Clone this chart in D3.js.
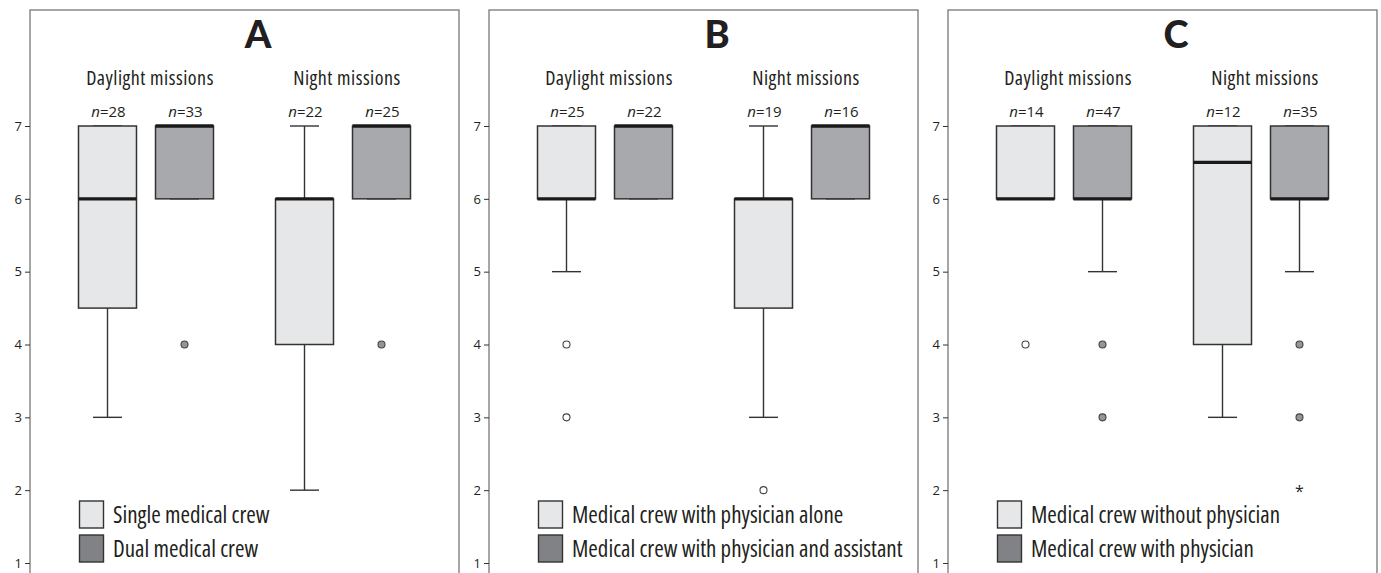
<!DOCTYPE html>
<html><head><meta charset="utf-8">
<script src="https://cdn.jsdelivr.net/npm/d3@7"></script>
<style>body{margin:0;background:#fff;} svg{display:block;}</style>
</head><body><svg id="chart" width="1381" height="573"></svg>
<script>
const panelLetters = ["A","B","C"];
const groupLabels = ["Daylight missions","Night missions"];
const crewKeys = ["light","dark"];
const legendA = ["Single medical crew","Dual medical crew"];
const legendB = ["Medical crew with physician alone","Medical crew with physician and assistant"];
const legendC = ["Medical crew without physician","Medical crew with physician"];
const yTicks = [1,2,3,4,5,6,7];
// box order: daylight-light, daylight-dark, night-light, night-dark
const nA = [28,33,22,25], nB = [25,22,19,16], nC = [14,47,12,35];
const q1A = [4.5,6,4,6], q1B = [6,6,4.5,6], q1C = [6,6,4,6];
const medA = [6,7,6,7], medB = [6,7,6,7], medC = [6,6,6.5,6];
const q3A = [7,7,6,7], q3B = [7,7,6,7], q3C = [7,7,7,7];
const loA = [3,6,2,6], loB = [5,6,3,6], loC = [6,5,3,5];
const hiA = [7,7,7,7], hiB = [7,7,7,7], hiC = [7,7,7,7];
const outA = [[],[4],[],[4]], outB = [[4,3],[],[2],[]], outC = [[4],[4,3],[],[4,3]];
const extA = [[],[],[],[]], extB = [[],[],[],[]], extC = [[],[],[],[2]];

const panelData = [
  {n:nA,q1:q1A,med:medA,q3:q3A,lo:loA,hi:hiA,out:outA,ext:extA,legend:legendA},
  {n:nB,q1:q1B,med:medB,q3:q3B,lo:loB,hi:hiB,out:outB,ext:extB,legend:legendB},
  {n:nC,q1:q1C,med:medC,q3:q3C,lo:loC,hi:hiC,out:outC,ext:extC,legend:legendC}
];

const FONT = "'Open Sans', 'Noto Sans', sans-serif";
const fillBox = {light:"#e6e7e8", dark:"#a7a9ac"};
const fillLeg = {light:"#e6e7e8", dark:"#808285"};
const fillOut = {light:"#ffffff", dark:"#939598"};
const INK = "#231f20";

const svg = d3.select("#chart");
const px = d3.scaleBand().domain(panelLetters).range([30, 30 + 3*459]).paddingInner(0);
const y = d3.scaleLinear().domain([1,7]).range([563,126]);
const xg = d3.scalePoint().domain(groupLabels).range([116,313]);
const xc = d3.scalePoint().domain(crewKeys).range([-38.5,38.5]);
const BW = 58, CW = 29;
const frameW = 429;

panelLetters.forEach((letter, pi) => {
  const d = panelData[pi];
  const g = svg.append("g").attr("transform", `translate(${px(letter)},0)`);
  // frame
  g.append("rect").attr("x",0).attr("y",10).attr("width",frameW).attr("height",600)
    .attr("fill","none").attr("stroke","#777").attr("stroke-width",1.3);
  // axis
  const ax = g.append("g").call(d3.axisLeft(y).tickValues(yTicks).tickSize(5).tickPadding(3).tickFormat(d3.format("d")));
  ax.select(".domain").remove();
  ax.selectAll(".tick line").attr("stroke","#333").attr("stroke-width",1);
  ax.selectAll(".tick text").attr("font-family",FONT).attr("font-size",13).attr("fill",INK);
  // title
  g.append("text").attr("x",228).attr("y",48).attr("text-anchor","middle")
    .attr("font-family","Lato, 'Open Sans', sans-serif").attr("font-weight",900).attr("font-size",38)
    .attr("fill",INK).text(letter);
  // group labels
  groupLabels.forEach(gl => {
    g.append("text").attr("x",xg(gl)+4).attr("y",85).attr("text-anchor","middle")
      .attr("font-family",FONT).style("font-stretch","condensed").style("letter-spacing","0.5px")
      .attr("font-size",20).attr("fill",INK).text(gl);
  });
  // boxes
  const boxes = [];
  groupLabels.forEach((gl,gi) => crewKeys.forEach((ck,ci) => boxes.push({gl,ck,i:gi*2+ci})));
  boxes.forEach(b => {
    const cx = xg(b.gl) + xc(b.ck);
    const i = b.i;
    const bg = g.append("g");
    // n label
    const t = bg.append("text").attr("x",cx+1).attr("y",117).attr("text-anchor","middle")
      .attr("font-family",FONT).attr("font-size",15).attr("fill",INK);
    t.append("tspan").attr("font-style","italic").text("n");
    t.append("tspan").text("=" + d.n[i]);
    // whiskers
    const ws = "#333";
    if (d.hi[i] > d.q3[i]) bg.append("line").attr("x1",cx).attr("x2",cx).attr("y1",y(d.q3[i])).attr("y2",y(d.hi[i])).attr("stroke",ws).attr("stroke-width",1.4);
    if (d.lo[i] < d.q1[i]) bg.append("line").attr("x1",cx).attr("x2",cx).attr("y1",y(d.q1[i])).attr("y2",y(d.lo[i])).attr("stroke",ws).attr("stroke-width",1.4);
    [d.hi[i], d.lo[i]].forEach(v => bg.append("line").attr("x1",cx-CW/2).attr("x2",cx+CW/2).attr("y1",y(v)).attr("y2",y(v)).attr("stroke",ws).attr("stroke-width",1.4));
    // box
    bg.append("rect").attr("x",cx-BW/2).attr("y",y(d.q3[i])).attr("width",BW).attr("height",y(d.q1[i])-y(d.q3[i]))
      .attr("fill",fillBox[b.ck]).attr("stroke","#333").attr("stroke-width",1.5);
    // median
    bg.append("line").attr("x1",cx-BW/2).attr("x2",cx+BW/2).attr("y1",y(d.med[i])).attr("y2",y(d.med[i]))
      .attr("stroke","#1a1a1a").attr("stroke-width",3.4);
    // outliers
    d.out[i].forEach(v => bg.append("circle").attr("cx",cx).attr("cy",y(v)).attr("r",3.5)
      .attr("fill",fillOut[b.ck]).attr("stroke","#444").attr("stroke-width",1.1));
    d.ext[i].forEach(v => bg.append("text").attr("x",cx).attr("y",y(v)+7).attr("text-anchor","middle")
      .attr("font-family",FONT).attr("font-size",16).attr("fill",INK).text("*"));
  });
  // legend
  d.legend.forEach((lab, li) => {
    const ck = crewKeys[li];
    const ly = 501 + li*34;
    g.append("rect").attr("x",49.5).attr("y",ly).attr("width",24).attr("height",27)
      .attr("fill",fillLeg[ck]).attr("stroke","#333").attr("stroke-width",1.4);
    g.append("text").attr("x",83).attr("y",ly+22).attr("font-family",FONT).style("font-stretch","condensed").attr("font-size",23)
      .attr("fill",INK).text(lab);
  });
});
</script></body></html>
